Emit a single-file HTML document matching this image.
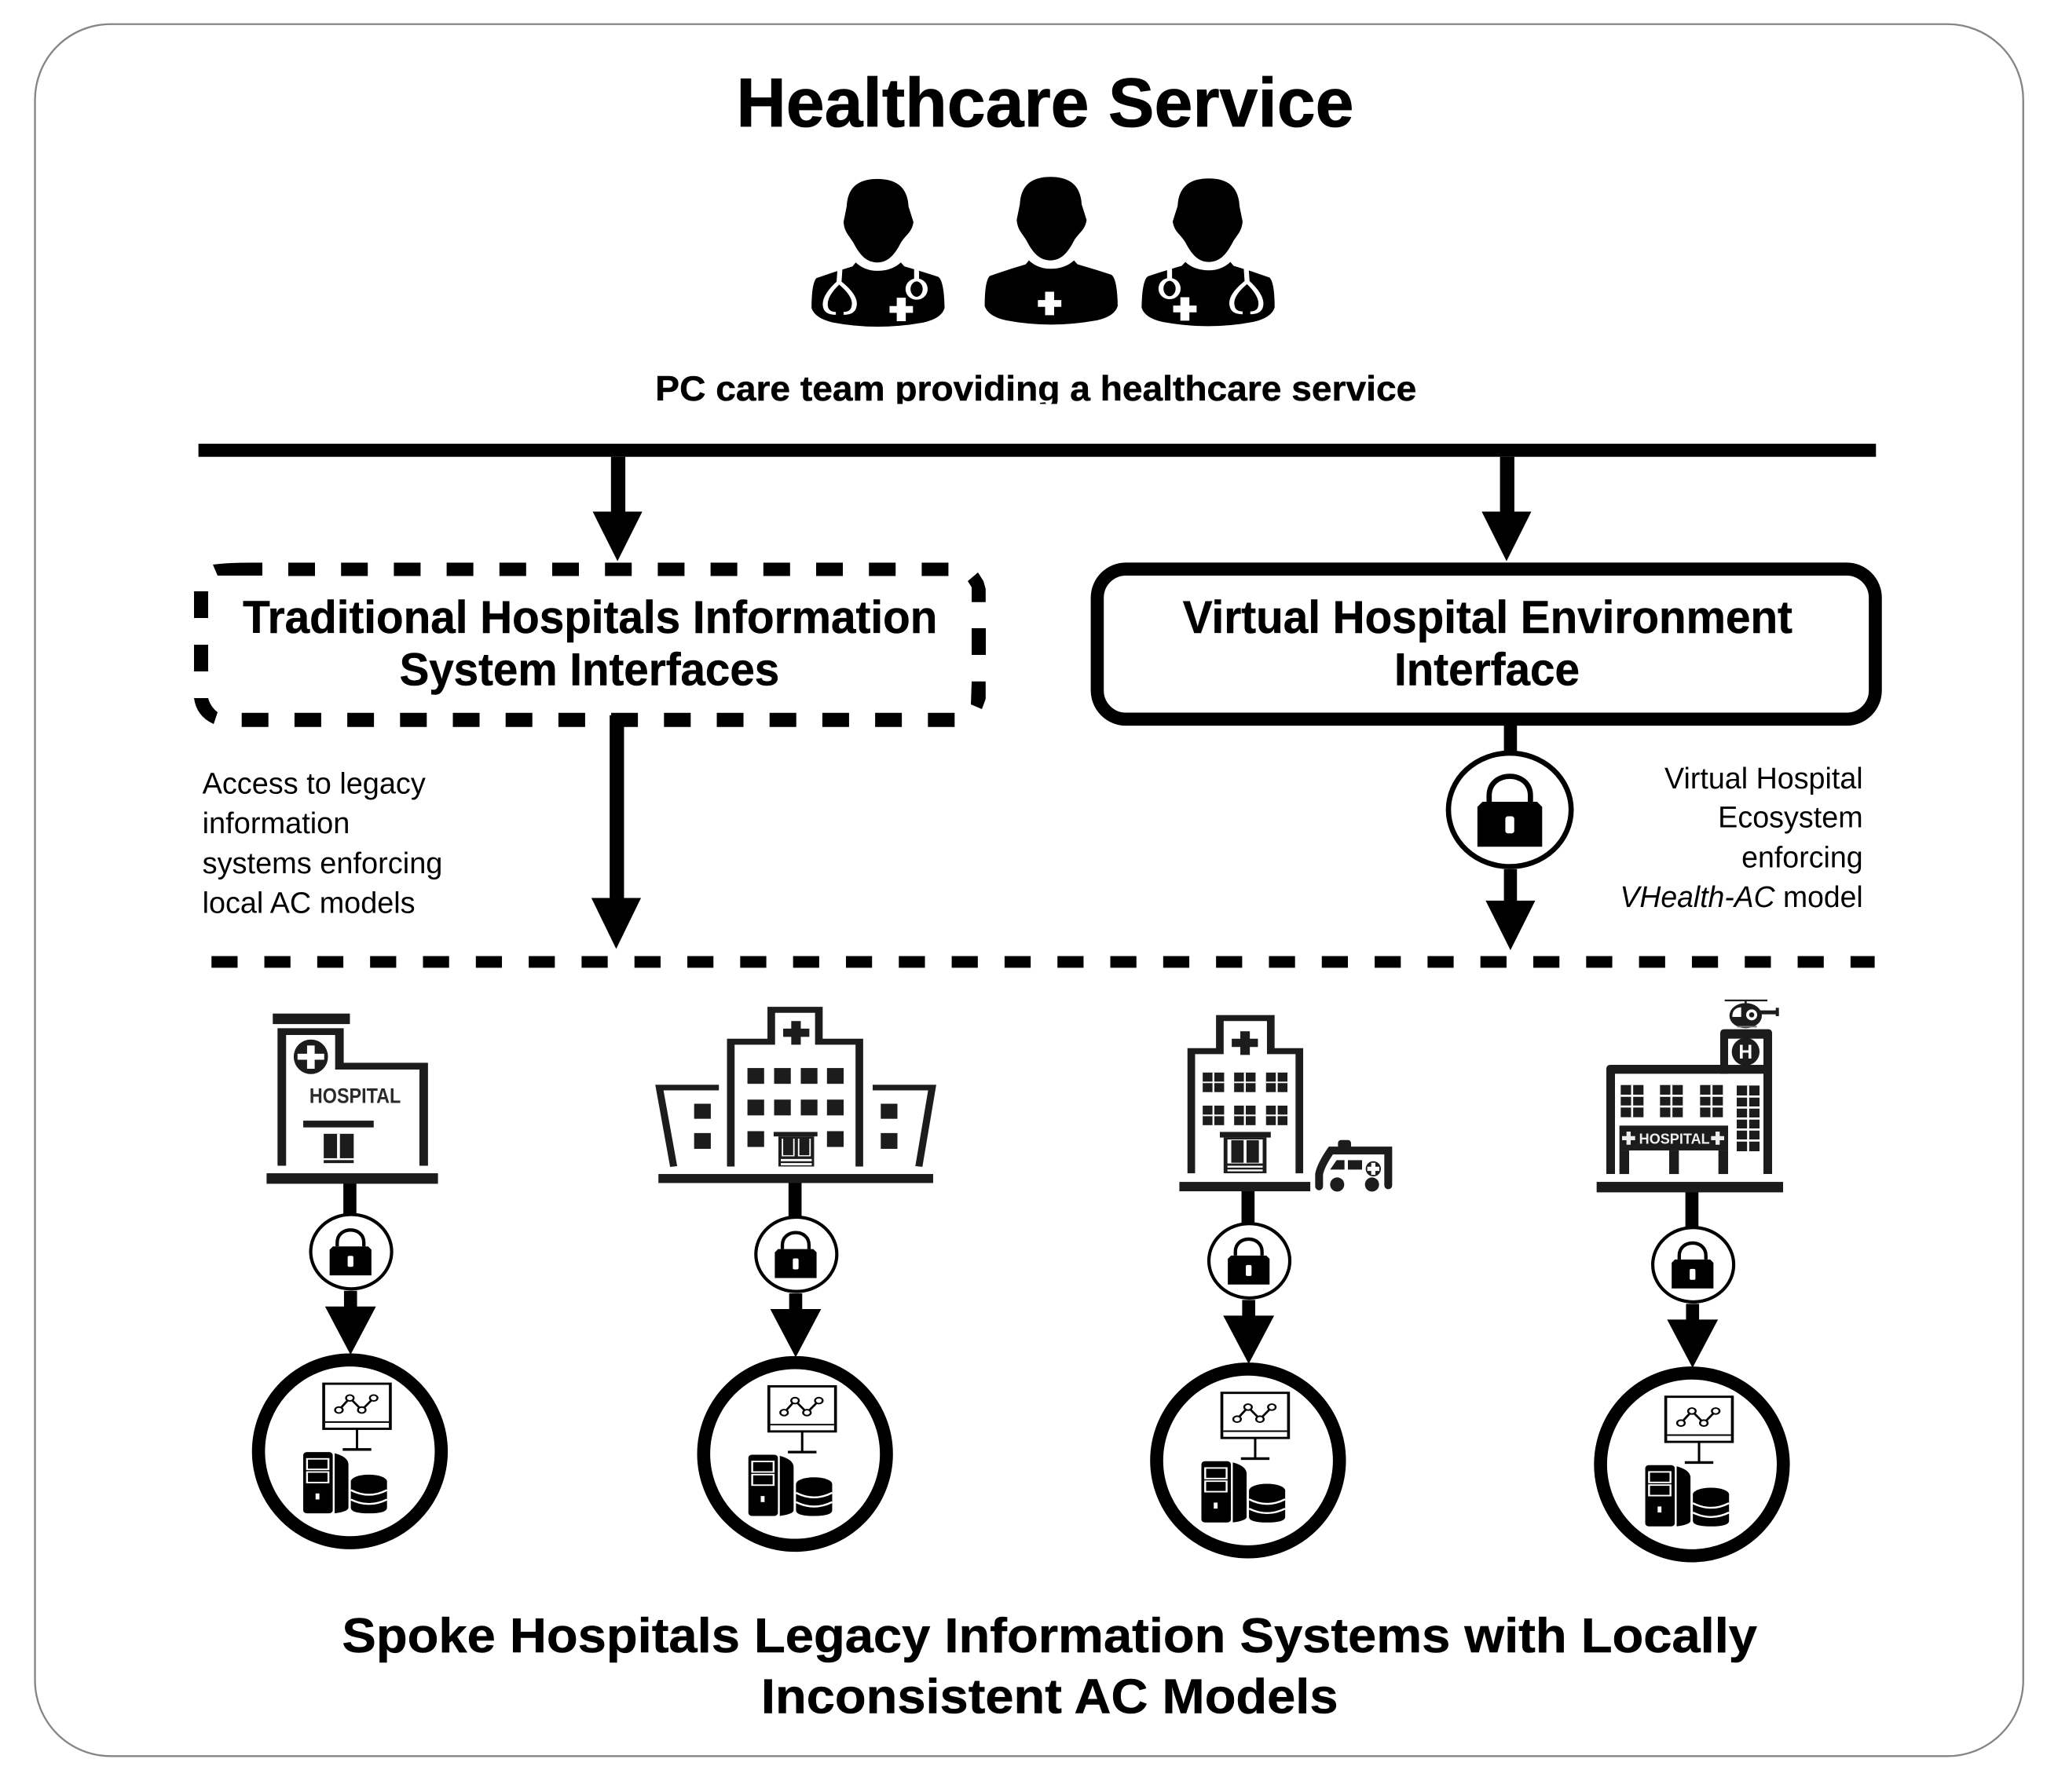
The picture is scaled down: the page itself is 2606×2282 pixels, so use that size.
<!DOCTYPE html>
<html><head><meta charset="utf-8"><title>Healthcare Service</title>
<style>html,body{margin:0;padding:0;background:#fff}svg{display:block}text{font-family:"Liberation Sans",Arial,sans-serif;fill:#000}.b{font-weight:700}.h{stroke:#000;stroke-width:.3}</style></head>
<body>
<svg xmlns="http://www.w3.org/2000/svg" width="2606" height="2282" viewBox="0 0 1568 1373" preserveAspectRatio="none">
<defs>
<g id="person">
<path d="M0,0 C-42,0 -66,32 -68,105 L-75,165 C-73,205 -63,215 -53,245 C-38,295 -23,320 0,320 C22,320 37,295 52,245 C62,215 77,205 80,165 L69,105 C67,32 42,0 0,0Z"/>
<path d="M-48,320 Q-28,352 0,352 Q32,352 52,320 L60,335 Q100,355 135,375 Q148,390 149,495 Q142,535 102,550 Q0,582 -98,550 Q-138,535 -146,495 Q-146,400 -135,380 Q-95,355 -55,335Z"/>
</g>
<g id="doc"><use href="#person"/>
<g fill="none" stroke="#fff" stroke-width="11"><path d="M-83,345 L-85,395 Q-120,450 -115,490 Q-112,515 -92,515"/><path d="M-85,395 Q-45,450 -52,490 Q-55,515 -75,515"/><path d="M87,340 V385"/><ellipse cx="87" cy="422" rx="19" ry="35"/></g>
<path fill="#fff" d="M43,455h20v32h16v26h-16v32h-20v-32h-16v-26h16z"/></g>
<g id="lock"><path d="M-10.2,-4 V-7 C-10.2,-19.8 10.2,-19.8 10.2,-7 V-4" fill="none" stroke="#000" stroke-width="2.6"/><path d="M-16,-1.5L-13.5,-4H13.5L16,-1.5V18.2H-16Z"/><rect x="-2.2" y="3.2" width="4.4" height="8.4" rx="1.2" fill="#fff"/></g>
<g id="sys">
<rect x="-55" y="-180" width="140" height="120" fill="#fff" stroke="#000" stroke-width="6"/>
<path d="M-52,-78H82" stroke="#000" stroke-width="4"/>
<path d="M15,-60V-5" stroke="#000" stroke-width="5"/><path d="M-15,-5H45" stroke="#000" stroke-width="7"/>
<polyline points="-23,-110 0,-142 25,-110 50,-142" fill="none" stroke="#000" stroke-width="5"/>
<g fill="#fff" stroke="#000" stroke-width="4"><circle cx="-23" cy="-110" r="8"/><circle cx="0" cy="-142" r="8"/><circle cx="25" cy="-110" r="8"/><circle cx="50" cy="-142" r="8"/></g>
<rect x="-98" y="2" width="62" height="163" rx="8"/><path d="M-32,5 Q-3,15 -3,35 V150 Q-3,160 -32,165Z"/>
<g fill="none" stroke="#fff" stroke-width="4"><rect x="-90" y="20" width="45" height="28"/><rect x="-90" y="55" width="45" height="28"/></g>
<rect x="-72" y="112" width="8" height="16" fill="#fff"/>
<ellipse cx="40" cy="80" rx="38" ry="18"/><path d="M2,80V150Q2,165 40,165Q78,165 78,150V80Z"/>
<path d="M2,103 Q40,128 78,103M2,128 Q40,152 78,128" fill="none" stroke="#fff" stroke-width="5"/>
</g>
<g id="col">
<rect x="-5" y="-212" width="10" height="32"/>
<ellipse cx="1" cy="-153" rx="31" ry="28.5" fill="#fff" stroke="#000" stroke-width="2.5"/>
<use href="#lock" x="0.5" y="-153"/>
<rect x="-4.5" y="-123" width="10" height="16"/>
<path d="M-19,-111H20L0.5,-74Z"/>
<circle cx="0" cy="0" r="70" fill="#fff" stroke="#000" stroke-width="10"/>
<g transform="scale(.3647,.2879)"><use href="#sys"/></g>
</g>
<g id="w2"><rect width="45" height="52"/><path d="M22.5,0V52M0,26H45" stroke="#fff" stroke-width="4"/></g>
<g id="w4"><rect width="87" height="123"/><path d="M43.5,0V123M0,41H87M0,82H87" stroke="#fff" stroke-width="8"/></g>
</defs>

<rect x="26.8" y="18.5" width="1523" height="1327" rx="58" fill="#fff" stroke="#858585" stroke-width="1.4"/>

<text class="b" x="564" y="97" font-size="53" textLength="473" lengthAdjust="spacingAndGlyphs" stroke="#000" stroke-width=".5">Healthcare Service</text>

<g transform="translate(541.5,30.1) scale(.3454,.2)">
<use href="#doc" x="378" y="535"/>
<g transform="translate(762,527)"><use href="#person"/><path fill="#fff" d="M-12,440h20v32h16v26h-16v32h-20v-32h-16v-26h16z"/></g>
<g transform="translate(1113,533) scale(-1,1)"><use href="#doc"/></g>
</g>

<text class="b h" x="502" y="307" font-size="27" textLength="583" lengthAdjust="spacingAndGlyphs">PC care team providing a healthcare service</text>
<rect x="490" y="309.5" width="610" height="10" fill="#fff"/>

<rect x="152" y="340" width="1285" height="10"/>
<rect x="468" y="350" width="11" height="44"/><path d="M454,392H492L473,430Z"/>
<rect x="1149" y="350" width="11" height="44"/><path d="M1135,392H1173L1154,430Z"/>

<!-- dashed box, drawn in real pixels -->
<g transform="scale(.6017)">
<path d="M367,725H1208" stroke="#000" stroke-width="17" stroke-dasharray="34 33.2" fill="none"/>
<path d="M307.7,916.7H1216" stroke="#000" stroke-width="18" stroke-dasharray="34 33.2" fill="none"/>
<path d="M256,753V855" stroke="#000" stroke-width="18" stroke-dasharray="34 34" fill="none"/>
<path d="M1246,800V834" stroke="#000" stroke-width="18" fill="none"/>
<path d="M271,719Q290,716 334,716.5V733H277Z"/>
<path d="M247,889H265Q268,900 277,907L272,922Q250,912 247,889Z"/>
<path d="M1232,740L1245,729L1252,740L1254.8,750V766.7H1237V748Z"/>
<path d="M1237,867.7H1254.8V890L1250,903L1236,897Z"/>
</g>
<text class="b h" x="186" y="485" font-size="35" textLength="532" lengthAdjust="spacingAndGlyphs">Traditional Hospitals Information</text>
<text class="b h" x="306" y="525" font-size="35" textLength="291" lengthAdjust="spacingAndGlyphs">System Interfaces</text>

<rect x="840.5" y="436" width="596" height="115" rx="22" fill="#fff" stroke="#000" stroke-width="10"/>
<text class="b h" x="906" y="485" font-size="35" textLength="467" lengthAdjust="spacingAndGlyphs">Virtual Hospital Environment</text>
<text class="b h" x="1068" y="525" font-size="35" textLength="142" lengthAdjust="spacingAndGlyphs">Interface</text>

<rect x="467" y="548" width="11" height="142"/><path d="M453,688H491L472,727Z"/>
<rect x="1152" y="555" width="10" height="28"/>
<ellipse cx="1156.5" cy="620.5" rx="47" ry="43.5" fill="#fff" stroke="#000" stroke-width="4"/>
<g transform="translate(1156.5,620.5) scale(1.55)"><use href="#lock"/></g>
<rect x="1152" y="666" width="10" height="27"/><path d="M1138,690H1176L1157,728Z"/>

<g font-size="23">
<text x="155" y="608" textLength="171" lengthAdjust="spacingAndGlyphs">Access to legacy</text>
<text x="155" y="638.5" textLength="113" lengthAdjust="spacingAndGlyphs">information</text>
<text x="155" y="669" textLength="184" lengthAdjust="spacingAndGlyphs">systems enforcing</text>
<text x="155" y="699.5" textLength="163" lengthAdjust="spacingAndGlyphs">local AC models</text>
<text x="1275" y="604" textLength="152" lengthAdjust="spacingAndGlyphs">Virtual Hospital</text>
<text x="1316" y="634" textLength="111" lengthAdjust="spacingAndGlyphs">Ecosystem</text>
<text x="1334" y="664.5" textLength="93" lengthAdjust="spacingAndGlyphs">enforcing</text>
<text x="1241" y="695" textLength="186" lengthAdjust="spacingAndGlyphs"><tspan font-style="italic">VHealth-AC</tspan> model</text>
</g>

<path d="M162,737H1436" stroke="#000" stroke-width="9" stroke-dasharray="20 20.5"/>

<use href="#col" x="268" y="1112"/>
<use href="#col" x="609" y="1114"/>
<use href="#col" x="956" y="1119"/>
<use href="#col" x="1296" y="1122"/>

<!-- buildings 1 & 2 -->
<g transform="translate(180.5,752.1) scale(.3647,.2879)" fill="#1c1c1c">
<rect x="78" y="85" width="162" height="28"/>
<path d="M97,490V133H218V225H395V490" fill="none" stroke="#1c1c1c" stroke-width="18"/>
<ellipse cx="158" cy="200" rx="36" ry="46"/><path fill="#fff" d="M150,170h16v22h20v16h-20v24h-16v-24h-20v-16h20z"/>
<text class="b" x="155" y="323" font-size="56" textLength="192" lengthAdjust="spacingAndGlyphs" style="fill:#2a2a2a">HOSPITAL</text>
<rect x="142" y="370" width="148" height="18"/>
<rect x="185" y="405" width="63" height="65"/><rect x="213" y="405" width="6" height="65" fill="#fff"/><rect x="185" y="475" width="63" height="8"/>
<rect x="65" y="510" width="360" height="28"/>

<path d="M1040,492V160H1125V75H1225V160H1310V492" fill="none" stroke="#1c1c1c" stroke-width="16"/>
<path d="M1167,105h20v20h18v22h-18v21h-20v-21h-17v-22h17z"/>
<rect x="1075" y="230" width="35" height="42"/><rect x="1131" y="230" width="35" height="42"/><rect x="1187" y="230" width="35" height="42"/><rect x="1242" y="230" width="35" height="42"/>
<rect x="1075" y="314" width="35" height="42"/><rect x="1131" y="314" width="35" height="42"/><rect x="1187" y="314" width="35" height="42"/><rect x="1242" y="314" width="35" height="42"/>
<rect x="1075" y="398" width="35" height="42"/><rect x="1242" y="398" width="35" height="42"/>
<rect x="1130" y="400" width="92" height="12"/>
<rect x="1140" y="412" width="75" height="80"/><path d="M1147,418V465H1174V418ZM1181,418V465H1208V418ZM1145,472H1210V478H1145ZM1145,483H1210V489H1145Z" fill="#fff"/>
<path d="M1150,418V462H1171V418ZM1184,418V462H1205V418Z" fill="#1c1c1c"/>
<path d="M920,492L890,282H1015M1435,492L1463,282H1338" fill="none" stroke="#1c1c1c" stroke-width="15"/>
<rect x="963" y="325" width="35" height="40"/><rect x="963" y="403" width="35" height="42"/><rect x="1355" y="325" width="35" height="40"/><rect x="1355" y="403" width="35" height="42"/>
<rect x="888" y="512" width="577" height="24"/>
</g>

<!-- building 3 -->
<g transform="translate(872.4,752.1) scale(.3647,.2879)" fill="#1c1c1c">
<path d="M110,510V185H170V97H277V185H337V510" fill="none" stroke="#1c1c1c" stroke-width="16"/>
<path d="M213,132h20v20h17v22h-17v21h-20v-21h-18v-22h18z"/>
<use href="#w2" x="134" y="242"/><use href="#w2" x="200" y="242"/><use href="#w2" x="267" y="242"/>
<use href="#w2" x="134" y="330"/><use href="#w2" x="200" y="330"/><use href="#w2" x="267" y="330"/>
<rect x="170" y="400" width="107" height="15"/>
<rect x="178" y="415" width="90" height="95"/><path d="M186,420H260V484H186ZM186,490H260V495H186ZM186,500H260V505H186Z" fill="#fff"/>
<rect x="194" y="422" width="26" height="60"/><rect x="226" y="422" width="26" height="60"/>
<rect x="85" y="533" width="275" height="25"/>
</g>

<!-- ambulance -->
<g transform="translate(998.8,854.4) scale(.2006)" fill="#1c1c1c">
<path d="M58,272V225Q65,190 103,135H322V268" fill="none" stroke="#1c1c1c" stroke-width="30" stroke-linecap="round"/>
<rect x="130" y="95" width="50" height="35" rx="12"/>
<path d="M100,208L125,172H155V208Z"/><rect x="168" y="172" width="54" height="36"/>
<circle cx="265" cy="205" r="29"/><path fill="#fff" d="M257,182h16v15h15v16h-15v15h-16v-15h-15v-16h15z"/>
<circle cx="127" cy="265" r="27"/><circle cx="260" cy="265" r="27"/>
</g>

<!-- building 4 -->
<g transform="translate(1215.4,758.1) scale(.2006)" fill="#1c1c1c">
<path d="M75,705V305Q75,288 92,288H510V168Q510,152 526,152H692Q708,152 708,168V705H675V322H108V705Z"/>
<rect x="540" y="188" width="135" height="100" fill="#fff"/>
<path d="M510,182H540V322H510Z"/>
<circle cx="607" cy="238" r="53"/>
<text class="b" x="607" y="264" font-size="74" text-anchor="middle" style="fill:#fff">H</text>
<use href="#w4" x="130" y="365"/><use href="#w4" x="280" y="365"/><use href="#w4" x="433" y="365"/>
<rect x="573" y="367" width="87" height="251"/><path d="M616.5,367V618M573,409H660M573,451H660M573,493H660M573,535H660M573,577H660" stroke="#fff" stroke-width="8"/>
<rect x="125" y="520" width="415" height="95"/>
<text class="b" x="200" y="589" font-size="56" textLength="270" lengthAdjust="spacingAndGlyphs" style="fill:#eee">HOSPITAL</text>
<path fill="#eee" d="M152,543h16v17h17v16h-17v17h-16v-17h-17v-16h17zM492,543h16v17h17v16h-17v17h-16v-17h-17v-16h17z"/>
<rect x="125" y="615" width="37" height="90"/><rect x="315" y="615" width="37" height="90"/><rect x="503" y="615" width="37" height="90"/>
<rect x="38" y="735" width="712" height="40"/>
<path d="M527,42H690" stroke="#1c1c1c" stroke-width="7"/><rect x="603" y="42" width="8" height="14"/>
<ellipse cx="607" cy="100" rx="62" ry="48"/><rect x="660" y="80" width="65" height="15"/><rect x="722" y="70" width="12" height="32"/>
<path d="M556,105Q556,70 590,68V105Z" fill="#fff"/><circle cx="630" cy="97" r="21" fill="#fff"/><circle cx="630" cy="97" r="10"/>
<path d="M575,142H650" stroke="#777" stroke-width="6"/>
</g>

<text class="b h" x="262" y="1266" font-size="37.5" textLength="1084" lengthAdjust="spacingAndGlyphs">Spoke Hospitals Legacy Information Systems with Locally</text>
<text class="b h" x="583" y="1312.5" font-size="37.5" textLength="442" lengthAdjust="spacingAndGlyphs">Inconsistent AC Models</text>
</svg>
</body></html>
